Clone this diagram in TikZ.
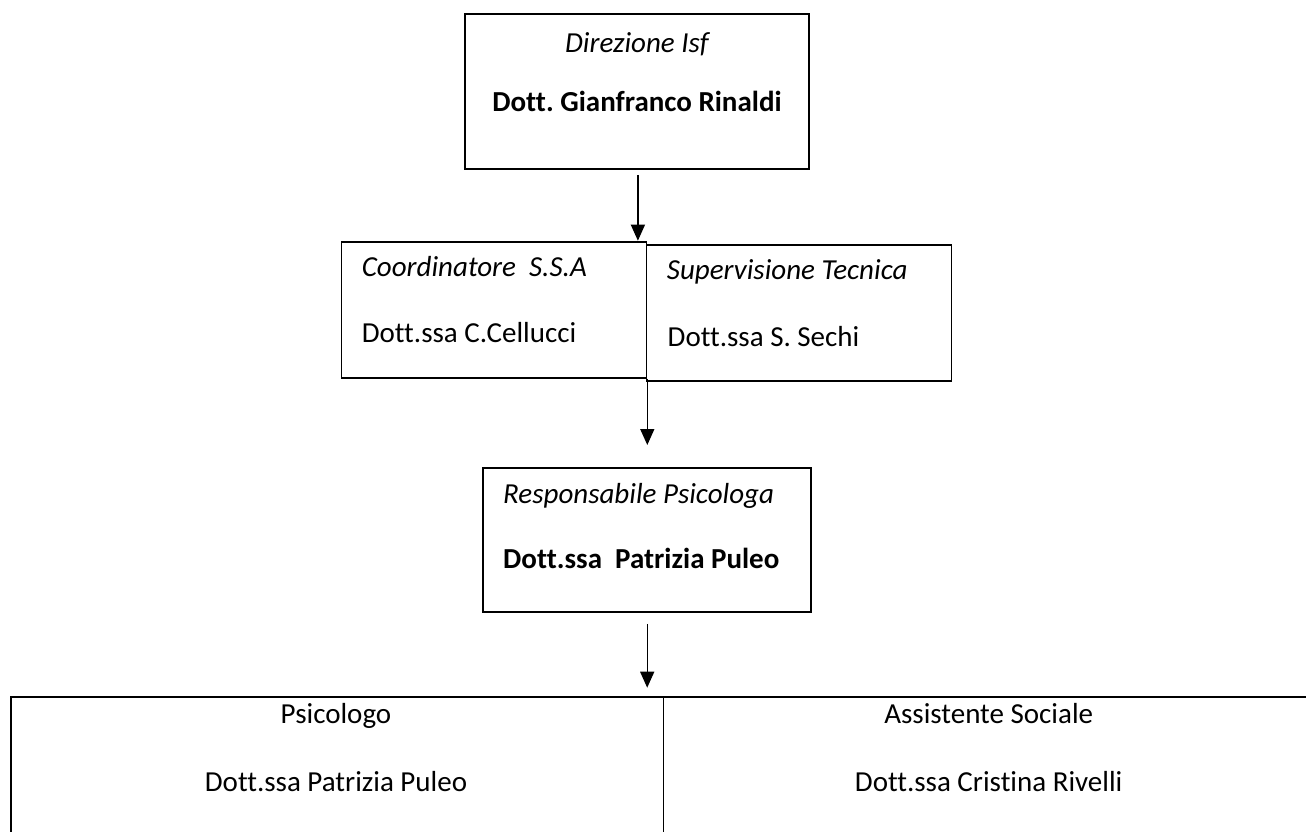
\documentclass[tikz,border=0pt]{standalone}
\usepackage{fontspec}
\setmainfont[Ligatures=NoCommon]{Carlito}
\usetikzlibrary{arrows.meta}
\frenchspacing
\tikzset{
  box/.style={draw, line width=1.8pt, inner sep=0pt, anchor=north west},
  lbl/.style={inner sep=0pt, font=\fontsize{29}{35}\selectfont},
  arr/.style={line width=1.4pt, -{Triangle[length=16pt,width=14pt]}}
}
\begin{document}
\begin{tikzpicture}[x=1pt,y=-1pt]
\useasboundingbox (0,0) rectangle (1306,832);
\clip (0,0) rectangle (1306,832);
% boxes
\node[box, minimum width=344pt, minimum height=155pt] (top) at (464,13) {};
\node[box, minimum width=305pt, minimum height=136pt] (lft) at (340.5,240.7) {};
\node[box, minimum width=305pt, minimum height=136pt] (rgt) at (645.6,244) {};
\node[box, minimum width=328pt, minimum height=144pt] (resp) at (482.3,467) {};
\node[box, minimum width=652.5pt, minimum height=170pt] (psi) at (10,695.7) {};
\node[box, minimum width=652.5pt, minimum height=170pt] (ass) at (662.5,695.7) {};
% texts
\node[lbl, anchor=base] (t1) at (637,53) {\itshape Direzione Isf};
\node[lbl, anchor=base] (t2) at (637,111.7) {\bfseries Dott. Gianfranco Rinaldi};
\node[lbl, anchor=base west] (l1) at (361.6,276.7) {\itshape Coordinatore\ \ S.S.A};
\node[lbl, anchor=base west] (l2) at (361.6,342.7) {Dott.ssa C.Cellucci};
\node[lbl, anchor=base west] (r1) at (666.7,279.3) {\itshape Supervisione Tecnica};
\node[lbl, anchor=base west] (r2) at (667.5,346) {Dott.ssa S. Sechi};
\node[lbl, anchor=base west] (p1) at (503,503.3) {\itshape Responsabile Psicologa};
\node[lbl, anchor=base west] (p2) at (503,568.3) {\bfseries Dott.ssa\ \ Patrizia Puleo};
\node[lbl, anchor=base] (s1) at (336,723.3) {Psicologo};
\node[lbl, anchor=base] (s2) at (336,791.7) {Dott.ssa Patrizia Puleo};
\node[lbl, anchor=base] (a1) at (988.7,723.3) {Assistente Sociale};
\node[lbl, anchor=base] (a2) at (988.7,791.7) {Dott.ssa Cristina Rivelli};
% connectors
\draw[arr] ([xshift=1pt,yshift=-5pt]top.south) -- ([xshift=1pt]top.south |- lft.north);
\draw[arr] (lft.south east) -- ([yshift=22pt]resp.north -| lft.south east);
\draw[arr] ([yshift=-11pt]resp.south) -- ([yshift=8pt]resp.south |- psi.north);
\end{tikzpicture}
\end{document}
